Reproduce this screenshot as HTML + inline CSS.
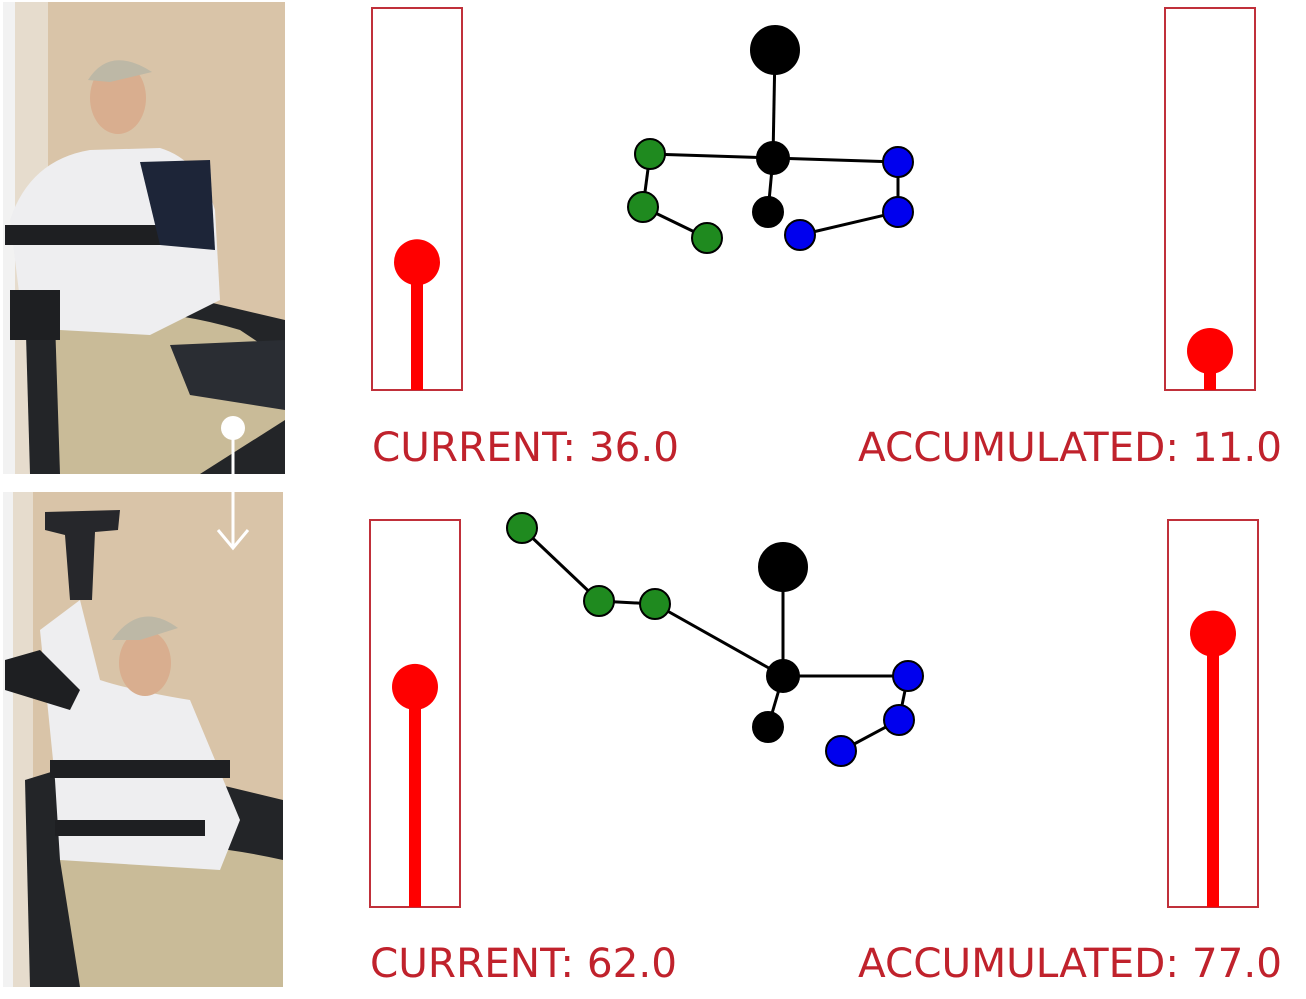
<!DOCTYPE html>
<html><head><meta charset="utf-8"><style>
html,body{margin:0;padding:0;background:#fff;}
body{width:1306px;height:999px;overflow:hidden;position:relative;font-family:"DejaVu Sans","Liberation Sans",sans-serif;}
.lbl{position:absolute;font-size:40.5px;color:#c0222c;white-space:nowrap;letter-spacing:0px;}
</style></head><body>
<svg width="1306" height="999" style="position:absolute;left:0;top:0">
  <g>
    <rect x="3" y="2" width="282" height="472" fill="#d9c4a8"/>
    <rect x="3" y="2" width="45" height="472" fill="#e6dccd"/>
    <rect x="3" y="2" width="12" height="472" fill="#f2f2f2"/>
    <path d="M30 474 L25 300 L90 290 L200 300 L285 320 L285 474 Z" fill="#232528"/>
    <path d="M55 320 Q140 300 240 330 L285 360 L285 420 L200 474 L60 474 Z" fill="#c9bb98"/>
    <path d="M10 220 Q30 160 90 150 L160 148 Q200 160 215 210 L220 300 L150 335 L60 330 L20 300 Z" fill="#eeeef0"/>
    <rect x="5" y="225" width="200" height="20" fill="#1e1f22"/>
    <rect x="10" y="290" width="50" height="50" fill="#1e1f22"/>
    <path d="M140 162 L210 160 L215 250 L160 245 Z" fill="#1d2538"/>
    <ellipse cx="118" cy="98" rx="28" ry="36" fill="#d9ae8f"/>
    <path d="M88 80 Q110 45 152 72 L110 82 Z" fill="#bdb8a6"/>
    <path d="M170 345 L285 340 L285 410 L190 395 Z" fill="#2a2d33"/>
  </g>
  <g>
    <rect x="3" y="492" width="280" height="495" fill="#d9c4a8"/>
    <rect x="3" y="492" width="30" height="495" fill="#e6dccd"/>
    <rect x="3" y="492" width="10" height="495" fill="#f2f2f2"/>
    <path d="M30 987 L25 780 L90 760 L200 780 L283 800 L283 987 Z" fill="#232528"/>
    <path d="M60 860 Q150 830 283 860 L283 987 L80 987 Z" fill="#c9bb98"/>
    <path d="M40 630 L80 600 L100 680 Q130 690 190 700 L240 820 L220 870 L60 860 L55 780 Z" fill="#eeeef0"/>
    <rect x="50" y="760" width="180" height="18" fill="#1e1f22"/>
    <rect x="55" y="820" width="150" height="16" fill="#1e1f22"/>
    <path d="M45 512 L120 510 L118 530 L95 532 L92 600 L70 600 L65 535 L45 530 Z" fill="#26272b"/>
    <ellipse cx="145" cy="663" rx="26" ry="33" fill="#d9ae8f"/>
    <path d="M112 640 Q140 600 178 628 L140 640 Z" fill="#bdb8a6"/>
    <path d="M5 660 L40 650 L80 690 L70 710 L5 690 Z" fill="#1e1f22"/>
  </g>
  <g>
    <circle cx="233" cy="428" r="12" fill="#fff"/>
    <line x1="233" y1="428" x2="233" y2="548" stroke="#fff" stroke-width="3"/>
    <polyline points="218,530 233,548 248,530" fill="none" stroke="#fff" stroke-width="3"/>
  </g>
  <g id="gauges"></g>
  <g id="skeletons"></g>
</svg>
<div class="lbl" style="left:372px;top:423px;">CURRENT: 36.0</div>
<div class="lbl" style="left:858px;top:423px;">ACCUMULATED: 11.0</div>
<div class="lbl" style="left:370px;top:939px;">CURRENT: 62.0</div>
<div class="lbl" style="left:858px;top:939px;">ACCUMULATED: 77.0</div>
<script>
const gaugeNames = ['current-top','accumulated-top','current-bottom','accumulated-bottom'];
const gaugeValues = [36, 11, 62, 77];
const gaugeBoxes = [[372,8,90,382],[1165,8,90,382],[370,520,90,387],[1168,520,90,387]];
const NS='http://www.w3.org/2000/svg';
function mk(t,a,p){const e=document.createElementNS(NS,t);for(const k in a)e.setAttribute(k,a[k]);p.appendChild(e);return e;}
const G=document.getElementById('gauges');
function yScale(v,box){return box[1]+box[3]-v*3.55;}
gaugeValues.forEach((v,i)=>{
  const b=gaugeBoxes[i];
  const r=mk('rect',{x:b[0],y:b[1],width:b[2],height:b[3],fill:'none',stroke:'#c0303a','stroke-width':2},G);
  
  
  const cx=b[0]+b[2]/2, y=yScale(v,b);
  const s=mk('rect',{x:cx-6,y:y,width:12,height:b[1]+b[3]-y,fill:'#ff0000'},G);
  
  
  const c=mk('circle',{cx:cx,cy:y,r:23,fill:'#ff0000'},G);
  
  
});
const topJointsX = [775,773,650,643,707,898,898,800,768];
const topJointsY = [50,158,154,207,238,162,212,235,212];
const botJointsX = [783,783,655,599,522,908,899,841,768];
const botJointsY = [567,676,604,601,528,676,720,751,727];
const jointColors = ['#000','#000','#1f8a1f','#1f8a1f','#1f8a1f','#0000ee','#0000ee','#0000ee','#000'];
const jointRadii = [24,16,15,15,15,15,15,15,15];
const bones = [[0,1],[1,2],[2,3],[3,4],[1,5],[5,6],[6,7],[1,8]];
const S=document.getElementById('skeletons');
function drawSkel(xs,ys,name){
  bones.forEach(([a,b])=>{
    const l=mk('line',{x1:xs[a],y1:ys[a],x2:xs[b],y2:ys[b],stroke:'#000','stroke-width':3},S);
    
    
  });
  xs.forEach((x,i)=>{
    const c=mk('circle',{cx:x,cy:ys[i],r:jointRadii[i],fill:jointColors[i],stroke:'#000','stroke-width':2},S);
    
    
  });
}
drawSkel(topJointsX,topJointsY,'skeleton-top');
drawSkel(botJointsX,botJointsY,'skeleton-bottom');
</script>
</body></html>
